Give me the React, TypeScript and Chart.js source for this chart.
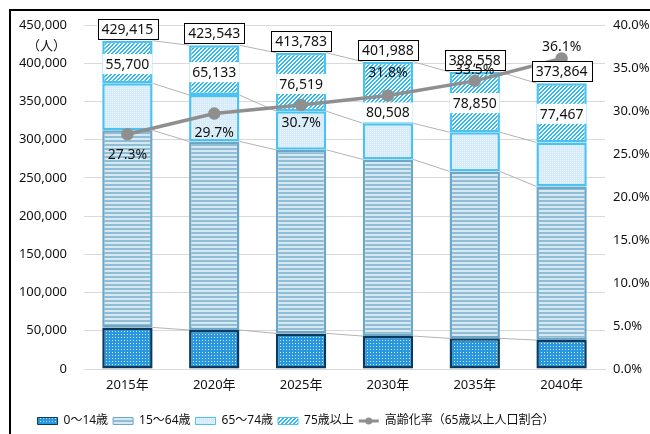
import React, { useEffect, useRef } from 'react';
import { Chart, registerables } from 'chart.js';

Chart.register(...registerables);

// ---- data ----
const years = ['2015年', '2020年', '2025年', '2030年', '2035年', '2040年'];
const age0to14 = [54400, 51000, 46600, 43100, 40100, 37800];
const age15to64 = [257815, 246710, 240164, 231080, 218308, 201097];
const age65to74 = [61500, 60700, 50500, 47300, 51300, 57500];
const age75plus = [55700, 65133, 76519, 80508, 78850, 77467];
const totals = [429415, 423543, 413783, 401988, 388558, 373864];
const agingRate = [27.3, 29.7, 30.7, 31.8, 33.5, 36.1];
const seriesNames = ['0～14歳', '15～64歳', '65～74歳', '75歳以上', '高齢化率（65歳以上人口割合）'];
const unitLabel = '（人）';

const FONT = '"Noto Sans", "Noto Sans CJK JP", sans-serif';

export default function App() {
  const ref = useRef<HTMLCanvasElement>(null);

  useEffect(() => {
    const canvas = ref.current!;
    const ctx = canvas.getContext('2d')!;
    const tile = (w: number, h: number, fn: (g: CanvasRenderingContext2D) => void) => {
      const c = document.createElement('canvas');
      c.width = w;
      c.height = h;
      const g = c.getContext('2d')!;
      fn(g);
      return ctx.createPattern(c, 'repeat')!;
    };
    const p0 = tile(3, 3, (g) => {
      g.fillStyle = '#2a96de';
      g.fillRect(0, 0, 3, 3);
      g.fillStyle = '#cdeafb';
      g.fillRect(1, 1, 1, 1);
    });
    const p1 = tile(1, 4, (g) => {
      g.fillStyle = '#d6e9f3';
      g.fillRect(0, 0, 1, 4);
      g.fillStyle = '#8ebdd5';
      g.fillRect(0, 0, 1, 2);
    });
    const p2 = tile(2, 2, (g) => {
      g.fillStyle = '#d6ebf9';
      g.fillRect(0, 0, 2, 2);
      g.fillStyle = '#e9f4fc';
      g.fillRect(0, 0, 1, 1);
    });
    const p3 = tile(4, 4, (g) => {
      g.fillStyle = '#ffffff';
      g.fillRect(0, 0, 4, 4);
      g.fillStyle = '#2fb9ee';
      for (let y = 0; y < 4; y++)
        for (let x = 0; x < 4; x++) if ((x + y) % 4 < 2) g.fillRect(x, y, 1, 1);
    });

    Chart.defaults.font.family = FONT;
    Chart.defaults.color = '#111';

    const lineColor = '#8f8f8f';

    const seriesLinesPlugin = {
      id: 'seriesLines',
      beforeDatasetsDraw(chart: any) {
        const c = chart.ctx;
        c.save();
        c.strokeStyle = '#b3b3b3';
        c.lineWidth = 1;
        for (let d = 0; d < 4; d++) {
          const els = chart.getDatasetMeta(d).data;
          for (let i = 0; i < els.length - 1; i++) {
            const a = els[i], b = els[i + 1];
            c.beginPath();
            c.moveTo(a.x + a.width / 2, a.y);
            c.lineTo(b.x - b.width / 2, b.y);
            c.stroke();
          }
        }
        c.restore();
      },
    };

    const legendShiftPlugin = {
      id: 'legendShift',
      beforeDraw(chart: any) {
        const lg = chart.legend;
        if (!lg) return;
        const dx = -29, dy = 3;
        lg.left += dx;
        lg.right += dx;
        lg.top += dy;
        lg.bottom += dy;
        (lg.legendHitBoxes || []).forEach((h: any) => {
          h.left += dx;
          h.top += dy;
        });
      },
    };

    const labelsPlugin = {
      id: 'valueLabels',
      afterDatasetsDraw(chart: any, _args: any, opts: any) {
        const c = chart.ctx;
        c.save();
        c.font = `14px ${FONT}`;
        c.textAlign = 'center';
        c.textBaseline = 'middle';
        // 75+ labels in white boxes
        const m3 = chart.getDatasetMeta(3).data;
        m3.forEach((el: any, i: number) => {
          const txt = age75plus[i].toLocaleString('en-US');
          const cy = (el.y + el.base) / 2 + opts.segOffsets[i];
          const w = c.measureText(txt).width + 6;
          c.fillStyle = '#fff';
          c.fillRect(el.x - w / 2, cy - 10, w, 20);
          c.fillStyle = '#111';
          c.fillText(txt, el.x, cy + 1);
        });
        // totals with bordered boxes
        m3.forEach((el: any, i: number) => {
          const txt = totals[i].toLocaleString('en-US');
          const cy = el.y - opts.totalGap;
          const w = c.measureText(txt).width + 8;
          c.fillStyle = '#fff';
          c.fillRect(el.x - w / 2, cy - 10, w, 20);
          c.strokeStyle = '#000';
          c.lineWidth = 1;
          c.strokeRect(Math.round(el.x - w / 2) + 0.5, Math.round(cy - 10) + 0.5, Math.round(w), 20);
          c.fillStyle = '#111';
          c.fillText(txt, el.x, cy + 1);
        });
        // rate labels
        const m4 = chart.getDatasetMeta(4).data;
        m4.forEach((el: any, i: number) => {
          c.fillStyle = '#111';
          c.fillText(agingRate[i].toFixed(1) + '%', el.x, el.y + opts.rateOffsets[i]);
        });
        // unit label
        c.font = `13px ${FONT}`;
        c.textAlign = 'right';
        c.fillText(unitLabel, 66, 46);
        c.restore();
      },
      afterDraw(chart: any) {
        const lg = chart.legend;
        if (!lg || !lg.legendHitBoxes) return;
        const hb = lg.legendHitBoxes[4];
        if (!hb) return;
        const c = chart.ctx;
        c.save();
        c.fillStyle = lineColor;
        c.beginPath();
        c.arc(hb.left + 10, hb.top + 6, 3.5, 0, Math.PI * 2);
        c.fill();
        c.restore();
      },
    };

    const barCommon = {
      stack: 's',
      yAxisID: 'y',
      order: 1,
      categoryPercentage: 1,
      barPercentage: 0.58,
      borderSkipped: false,
    };

    const chart = new Chart(canvas, {
      type: 'bar',
      data: {
        labels: years,
        datasets: [
          { ...barCommon, label: seriesNames[0], data: age0to14, backgroundColor: p0, borderColor: '#0b3a5e', borderWidth: 2.5 } as any,
          { ...barCommon, label: seriesNames[1], data: age15to64, backgroundColor: p1, borderColor: '#6da7c6', borderWidth: 2.5 } as any,
          { ...barCommon, label: seriesNames[2], data: age65to74, backgroundColor: p2, borderColor: '#4cc2f0', borderWidth: 2.5 } as any,
          { ...barCommon, label: seriesNames[3], data: age75plus, backgroundColor: p3, borderColor: '#4cc2f0', borderWidth: 2.5 } as any,
          {
            type: 'line',
            label: seriesNames[4],
            data: agingRate,
            yAxisID: 'y1',
            order: 0,
            borderColor: lineColor,
            backgroundColor: lineColor,
            borderWidth: 3.5,
            pointRadius: 4.5,
            pointBackgroundColor: lineColor,
            pointBorderColor: lineColor,
            tension: 0,
          } as any,
        ],
      },
      options: {
        animation: false,
        responsive: false,
        layout: { padding: { left: 0, right: 0, top: 25, bottom: 0 } },
        scales: {
          x: {
            stacked: true,
            grid: { display: false },
            border: { display: true, color: '#d9d9d9' },
            ticks: { font: { size: 13 }, color: '#111', padding: 0 },
            afterFit: (s: any) => { s.height = 38; },
          },
          y: {
            stacked: true,
            position: 'left',
            min: 0,
            max: 450000,
            ticks: {
              stepSize: 50000,
              font: { size: 13 },
              color: '#111',
              padding: 17,
              callback: (v: any) => Number(v).toLocaleString('en-US'),
            },
            grid: { color: '#d9d9d9', lineWidth: 1, drawTicks: false },
            border: { display: false },
            afterFit: (s: any) => { s.width = 84; },
          },
          y1: {
            position: 'right',
            min: 0,
            max: 40,
            ticks: {
              stepSize: 5,
              font: { size: 13 },
              color: '#111',
              padding: 8,
              callback: (v: any) => Number(v).toFixed(1) + '%',
            },
            grid: { display: false, drawTicks: false },
            border: { display: false },
            afterFit: (s: any) => { s.width = 45; },
          },
        },
        plugins: {
          legend: {
            position: 'bottom',
            labels: {
              usePointStyle: true,
              pointStyleWidth: 20,
              boxHeight: 7,
              padding: 5,
              font: { size: 12 },
              color: '#111',
              sort: (a: any, b: any) => a.datasetIndex - b.datasetIndex,
              generateLabels: (ch: any) =>
                ch.data.datasets.map((ds: any, i: number) => ({
                  text: ds.label,
                  datasetIndex: i,
                  fillStyle: ds.backgroundColor,
                  strokeStyle: ds.borderColor,
                  lineWidth: i === 4 ? 3 : 1,
                  pointStyle: i === 4 ? 'line' : 'rect',
                  hidden: false,
                  fontColor: '#111',
                })),
            },
          },
          tooltip: { enabled: false },
          valueLabels: {
            segOffsets: [2, 2, 2, 20, 1, 1],
            totalGap: 12,
            rateOffsets: [21, 19, 18, -23, -11, -12],
          },
        } as any,
      },
      plugins: [seriesLinesPlugin, legendShiftPlugin, labelsPlugin],
    });

    return () => chart.destroy();
  }, []);

  return (
    <div style={{ position: 'fixed', left: 0, top: 0, width: 650, height: 434, background: '#fff', overflow: 'hidden' }}>
      <div
        style={{
          position: 'absolute',
          left: 9,
          top: 9,
          width: 700,
          height: 500,
          borderLeft: '2px solid #000',
          borderTop: '2px solid #000',
        }}
      />
      <canvas ref={ref} width={650} height={434} style={{ position: 'absolute', left: 0, top: 0, display: 'block' }} />
    </div>
  );
}
